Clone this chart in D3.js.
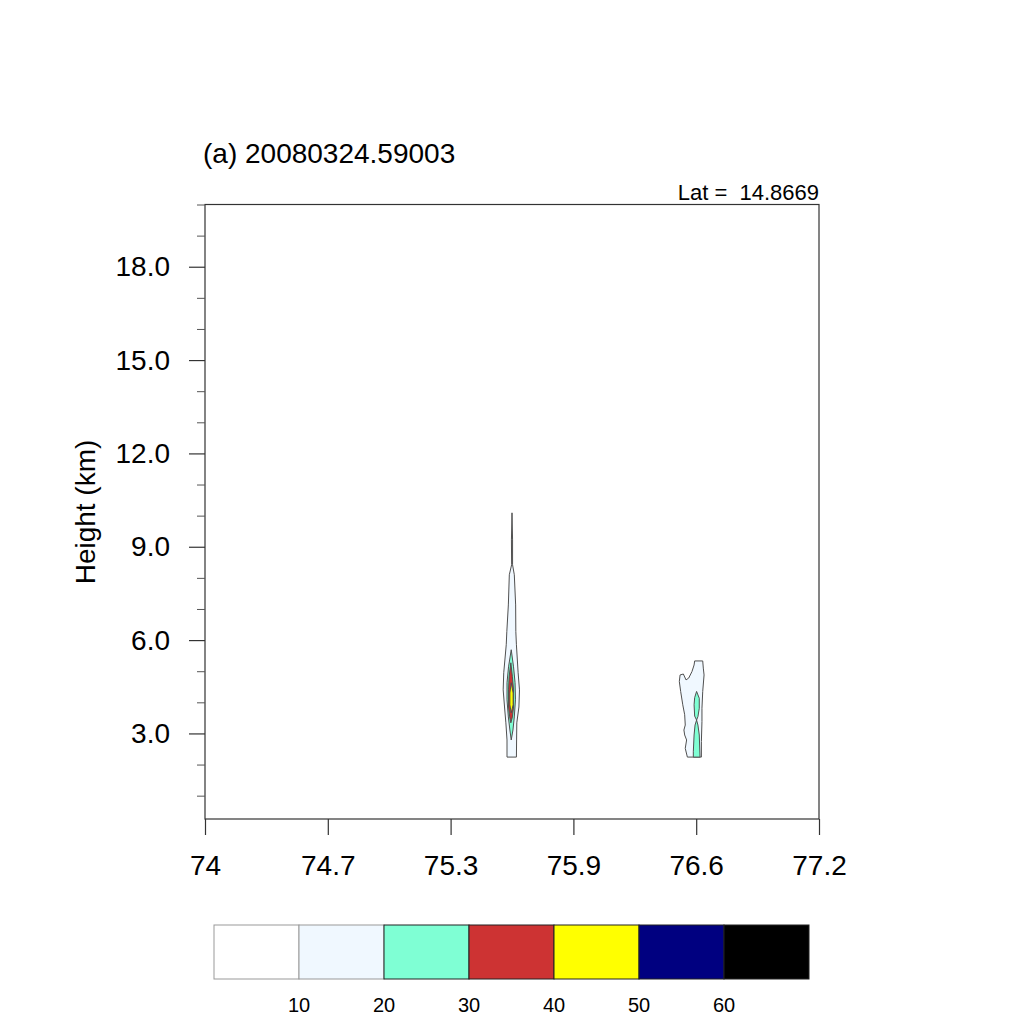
<!DOCTYPE html>
<html>
<head>
<meta charset="utf-8">
<script src="https://cdn.jsdelivr.net/npm/d3@7"></script>
<style>
  html, body { margin: 0; padding: 0; background: #fff; }
  text { font-family: "Liberation Sans", Arial, Helvetica, sans-serif; fill: #000; }
</style>
</head>
<body>
<svg id="chart" width="1024" height="1024"></svg>
<script>
// ---------------- data ----------------
const titleText = "(a) 20080324.59003";
const latText = "Lat =  14.8669";
const yLabel = "Height (km)";

const xDomain = [74, 77.2];
const yDomain = [0.25, 20];
const xTickValues = [74, 74.64, 75.28, 75.92, 76.56, 77.2];
const xTickLabels = ["74", "74.7", "75.3", "75.9", "76.6", "77.2"];
const yMajorTicks = [3, 6, 9, 12, 15, 18];
const yMinorTicks = [1, 2, 4, 5, 7, 8, 10, 11, 13, 14, 16, 17, 19, 20];

const levels = [10, 20, 30, 40, 50, 60];
const levelColors = ["#ffffff", "#f0f8ff", "#7fffd4", "#cd3333", "#ffff00", "#000080", "#000000"];

// contour polygons [lon, km] — storm near 75.6E
const storm1_10 = [[75.600,10.09],[75.603,9.22],[75.603,8.42],[75.612,8.10],[75.619,7.13],[75.620,6.27],
  [75.623,5.85],[75.632,4.95],[75.639,4.40],[75.636,3.85],[75.625,3.34],[75.624,2.79],[75.623,2.24],
  [75.574,2.24],[75.574,2.79],[75.568,3.34],[75.561,3.85],[75.554,4.40],[75.557,4.95],[75.570,5.85],
  [75.573,6.27],[75.581,7.13],[75.586,8.10],[75.598,8.42],[75.597,9.22]];
const storm1_20 = [[75.596,5.69],[75.608,5.14],[75.616,4.63],[75.618,4.08],[75.612,3.53],[75.605,3.11],
  [75.596,2.79],[75.589,3.11],[75.581,3.53],[75.574,4.08],[75.574,4.63],[75.582,5.14]];
const storm1_30 = [[75.594,5.27],[75.602,4.82],[75.608,4.40],[75.608,3.85],[75.602,3.53],[75.594,3.34],
  [75.588,3.53],[75.582,3.85],[75.582,4.40],[75.585,4.82]];
const storm1_40 = [[75.596,4.63],[75.606,4.30],[75.606,3.92],[75.596,3.66],[75.589,3.92],[75.589,4.30]];

// storm near 76.55E
const storm2_10 = [[76.514,2.24],[76.503,2.52],[76.510,2.79],[76.500,2.95],[76.496,3.11],[76.503,3.27],
  [76.500,3.60],[76.490,3.92],[76.479,4.35],[76.472,4.67],[76.476,4.88],[76.493,4.91],[76.507,4.72],
  [76.521,4.78],[76.538,4.99],[76.549,5.20],[76.552,5.33],[76.594,5.33],[76.597,5.10],[76.601,4.88],
  [76.594,4.35],[76.590,3.81],[76.590,3.38],[76.587,2.74],[76.587,2.24]];
const storm2_20a = [[76.562,4.35],[76.576,4.13],[76.576,3.81],[76.569,3.54],[76.562,3.43],[76.552,3.56],
  [76.549,3.92],[76.552,4.15]];
const storm2_20b = [[76.562,3.43],[76.569,3.27],[76.576,2.95],[76.580,2.24],[76.545,2.24],[76.545,2.41],
  [76.549,2.95],[76.554,3.27]];

const contourShapes = [
  { level: 10, pts: storm1_10 }, { level: 20, pts: storm1_20 },
  { level: 30, pts: storm1_30 }, { level: 40, pts: storm1_40 },
  { level: 10, pts: storm2_10 }, { level: 20, pts: storm2_20a }, { level: 20, pts: storm2_20b }
];

// ---------------- drawing ----------------
const svg = d3.select("#chart");
const L = 205, R = 819, T = 204.5, B = 819;

const x = d3.scaleLinear().domain(xDomain).range([L, R]);
const y = d3.scaleLinear().domain(yDomain).range([B, T]);
const color = d3.scaleThreshold().domain(levels).range(levelColors);

const plot = svg.append("g");
plot.append("clipPath").attr("id", "clip").append("rect")
  .attr("x", L).attr("y", T).attr("width", R - L).attr("height", B - T);

const line = d3.line().x(d => x(d[0])).y(d => y(d[1])).curve(d3.curveLinearClosed);
plot.append("g").attr("clip-path", "url(#clip)")
  .selectAll("path").data(contourShapes).join("path")
  .attr("d", d => line(d.pts))
  .attr("fill", d => color(d.level))
  .attr("stroke", "#505050")
  .attr("stroke-width", 1)
  .attr("stroke-linejoin", "round");

// frame
svg.append("rect").attr("x", L).attr("y", T).attr("width", R - L).attr("height", B - T)
  .attr("fill", "none").attr("stroke", "#333").attr("stroke-width", 1.2);

// y axis major
const yAxis = d3.axisLeft(y).tickValues(yMajorTicks).tickSize(16).tickPadding(19)
  .tickFormat(d3.format(".1f"));
const gy = svg.append("g").attr("transform", `translate(${L},0)`).call(yAxis);
gy.select(".domain").remove();
gy.selectAll(".tick line").attr("stroke", "#333").attr("stroke-width", 1.2);
gy.selectAll(".tick text").attr("font-size", 28).attr("font-family", "Liberation Sans, Arial, sans-serif");

// y axis minor
const yMinor = d3.axisLeft(y).tickValues(yMinorTicks).tickSize(8).tickFormat("");
const gym = svg.append("g").attr("transform", `translate(${L},0)`).call(yMinor);
gym.select(".domain").remove();
gym.selectAll(".tick line").attr("stroke", "#555").attr("stroke-width", 1);

// x axis
const xAxis = d3.axisBottom(x).tickValues(xTickValues).tickSize(16).tickPadding(20)
  .tickFormat((d, i) => xTickLabels[i]);
const gx = svg.append("g").attr("transform", `translate(0,${B})`).call(xAxis);
gx.select(".domain").remove();
gx.selectAll(".tick line").attr("stroke", "#333").attr("stroke-width", 1.2);
gx.selectAll(".tick text").attr("font-size", 28).attr("font-family", "Liberation Sans, Arial, sans-serif");

// titles
svg.append("text").attr("x", 203).attr("y", 163).attr("font-size", 28).text(titleText);
svg.append("text").attr("x", 819).attr("y", 200).attr("text-anchor", "end").attr("font-size", 22)
  .style("white-space", "pre").attr("xml:space", "preserve").text(latText);
svg.append("text").attr("transform", "translate(95,512) rotate(-90)")
  .attr("text-anchor", "middle").attr("font-size", 28).text(yLabel);

// colour bar
const cbX = d3.scaleLinear().domain([0, levelColors.length]).range([214, 809]);
const cb = svg.append("g");
cb.selectAll("rect").data(levelColors).join("rect")
  .attr("x", (d, i) => cbX(i)).attr("y", 925)
  .attr("width", (d, i) => cbX(i + 1) - cbX(i)).attr("height", 54)
  .attr("fill", d => d)
  .attr("stroke", (d, i) => i < 2 ? "#999" : "#222").attr("stroke-width", 1);
cb.selectAll("text").data(levels).join("text")
  .attr("x", (d, i) => cbX(i + 1)).attr("y", 1012)
  .attr("text-anchor", "middle").attr("font-size", 20).text(d => d);
</script>
</body>
</html>
